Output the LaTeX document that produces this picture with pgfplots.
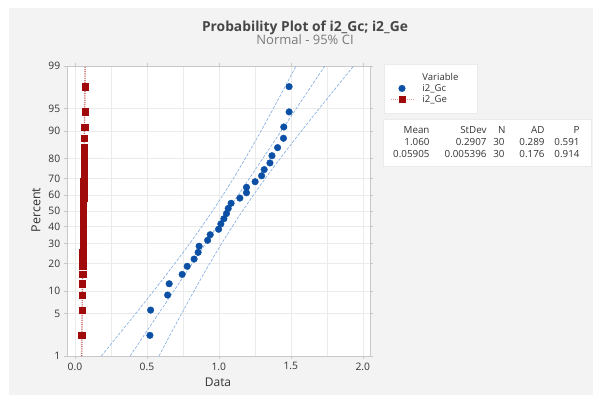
\documentclass[border=0pt]{standalone}
\usepackage{pgfplots}
\pgfplotsset{compat=1.18}
\usepackage{fontspec}
\setmainfont{Open Sans}
\definecolor{panelgray}{HTML}{F3F3F3}
\definecolor{minblue}{HTML}{0B50A5}
\definecolor{minred}{HTML}{A00A0A}
\definecolor{ciblue}{HTML}{7FAAE0}
\definecolor{gridgray}{HTML}{EBEBEB}
\definecolor{axisgray}{HTML}{C8C8C8}
\definecolor{txt}{HTML}{333333}
\definecolor{subtxt}{HTML}{7A7A7A}
\pgfplotsset{
  redleg/.style={legend image code/.code={\draw[draw=minred!40, line width=0.6pt, dash pattern=on 1pt off 1pt] (0cm,0cm) -- (0.8cm,0cm);
    \path[draw=none, fill=none] (0cm,0cm) -- (1.05cm,0cm);
    \draw[##1] plot coordinates {(0.4cm,0cm)};}},
  blueleg/.style={legend image code/.code={\path[draw=none, fill=none] (0cm,0cm) -- (1.05cm,0cm);
    \draw[##1] plot coordinates {(0.4cm,0cm)};}}
}
\begin{document}
\begin{tikzpicture}[x=1pt,y=1pt]
\fill[white] (0,0) rectangle (593,400);
\fill[panelgray] (9,5) rectangle (593,392);
\node[font=\fontsize{13.8}{16}\selectfont\bfseries, text=txt!90, anchor=base] at (305,400-32) {Probability Plot of i2\_Gc; i2\_Ge};
\node[font=\fontsize{13}{15}\selectfont, text=subtxt, anchor=base] at (305,400-44.5) {Normal - 95\% CI};
% legend box
\fill[white] (384,400-64) rectangle (477,400-113);
\draw[gridgray, line width=0.8pt] (384,400-64) rectangle (477,400-113);
% stats box
\fill[white] (383,400-119) rectangle (591,400-166);
\draw[gridgray, line width=0.8pt] (383,400-119) rectangle (591,400-166);
\begin{scope}[font=\fontsize{9.8}{11}\selectfont, text=txt]
\node[anchor=base east] at (433,400-133) {Mean};
\node[anchor=base east] at (490,400-133) {StDev};
\node[anchor=base east] at (509,400-133) {N};
\node[anchor=base east] at (548,400-133) {AD};
\node[anchor=base east] at (583,400-133) {P};
\node[anchor=base east] at (433,400-145) {1.060};
\node[anchor=base east] at (490,400-145) {0.2907};
\node[anchor=base east] at (508,400-145) {30};
\node[anchor=base east] at (548,400-145) {0.289};
\node[anchor=base east] at (583,400-145) {0.591};
\node[anchor=base east] at (433,400-157) {0.05905};
\node[anchor=base east] at (490,400-157) {0.005396};
\node[anchor=base east] at (508,400-157) {30};
\node[anchor=base east] at (548,400-157) {0.176};
\node[anchor=base east] at (583,400-157) {0.914};
\end{scope}
\node[font=\fontsize{12.5}{14}\selectfont, text=txt, rotate=90] at (36,400-210) {Percent};
\node[font=\fontsize{12}{14}\selectfont, text=txt] at (218,400-382) {Data};
\begin{axis}[
  at={(66.7pt,44pt)}, anchor=south west,
  scale only axis, width=303.3pt, height=290pt,
  xmin=-0.057, xmax=2.05, ymin=-2.3263, ymax=2.3263,
  axis background/.style={fill=white},
  axis line style={axisgray},
  xtick={0,0.5,1,1.5,2}, xticklabels={0.0,0.5,1.0,1.5,2.0},
  minor xtick={0.25,0.75,1.25,1.75},
  ytick={-2.3263,-1.6449,-1.2816,-0.8416,-0.5244,-0.2533,0,0.2533,0.5244,0.8416,1.2816,1.6449,2.3263},
  yticklabels={1,5,10,20,30,40,50,60,70,80,90,95,99},
  xmajorgrids, xminorgrids, ymajorgrids,
  grid style={gridgray, line width=0.6pt},
  minor grid style={gridgray, line width=0.6pt},
  tick align=outside, major tick length=3pt, minor tick length=0pt,
  tick style={axisgray, line width=0.6pt},
  ticklabel style={font=\fontsize{10.3}{12}\selectfont, text=txt},
  /pgf/number format/assume math mode=true,
  legend style={draw=none, fill=none, at={(axis description cs:1.063,0.987)}, anchor=north west,
    font=\fontsize{9.5}{11}\selectfont, text=txt, row sep=-1.5pt, inner sep=1pt},
  legend cell align=left,
  clip=true,
]
% blue fit line and CI bands
\addplot[ciblue, line width=0.6pt, dash pattern=on 3pt off 1.5pt, forget plot] coordinates {(0.3838,-2.3263) (1.7362,2.3263)};
\addplot[ciblue, line width=0.6pt, dash pattern=on 3pt off 1.5pt, forget plot, smooth] coordinates {
(0.1836,-2.3263) (0.2984,-2) (0.4724,-1.5) (0.6419,-1) (0.8044,-0.5) (0.9560,0) (1.0951,0.5) (1.2233,1) (1.3445,1.5) (1.4612,2) (1.5360,2.3263)};
\addplot[ciblue, line width=0.6pt, dash pattern=on 3pt off 1.5pt, forget plot, smooth] coordinates {
(0.5840,-2.3263) (0.6588,-2) (0.7756,-1.5) (0.8967,-1) (1.0250,-0.5) (1.1640,0) (1.3157,0.5) (1.4781,1) (1.6477,1.5) (1.8216,2) (1.9364,2.3263)};
% red fit line and CI bands
\addplot[minred!80, line width=0.8pt, dash pattern=on 1pt off 1.2pt, forget plot] coordinates {(0.0465,-2.3263) (0.0716,2.3263)};
\addplot[minred!50, line width=0.6pt, dash pattern=on 1pt off 1.2pt, forget plot, smooth] coordinates {(0.0428,-2.3263) (0.0571,0) (0.0679,2.3263)};
\addplot[minred!50, line width=0.6pt, dash pattern=on 1pt off 1.2pt, forget plot, smooth] coordinates {(0.0502,-2.3263) (0.0610,0) (0.0753,2.3263)};
\addlegendimage{empty legend}
\addlegendentry{Variable}
\addplot[only marks, mark=*, mark size=3.3pt, color=minblue, blueleg] table[row sep=\\] {
x y\\
0.521 -1.995\\ 0.526 -1.590\\ 0.644 -1.348\\ 0.655 -1.167\\ 0.745 -1.017\\
0.780 -0.887\\ 0.828 -0.771\\ 0.856 -0.664\\ 0.863 -0.565\\ 0.922 -0.470\\
0.940 -0.380\\ 0.998 -0.293\\ 1.014 -0.207\\ 1.035 -0.124\\ 1.053 -0.041\\
1.065 0.041\\ 1.085 0.124\\ 1.146 0.207\\ 1.192 0.293\\ 1.192 0.380\\
1.252 0.470\\ 1.297 0.565\\ 1.315 0.664\\ 1.355 0.771\\ 1.369 0.887\\
1.408 1.017\\ 1.449 1.167\\ 1.451 1.348\\ 1.488 1.590\\ 1.488 1.995\\
};
\addlegendentry{i2\_Gc}
\addplot[only marks, mark=square*, mark size=3.2pt, color=minred, redleg] table[row sep=\\] {
x y\\
0.0475 -1.995\\ 0.0500 -1.590\\ 0.0510 -1.348\\ 0.0525 -1.167\\ 0.0535 -1.017\\
0.0540 -0.887\\ 0.0550 -0.771\\ 0.0555 -0.664\\ 0.0560 -0.565\\ 0.0565 -0.470\\
0.0570 -0.380\\ 0.0575 -0.293\\ 0.0580 -0.207\\ 0.0585 -0.124\\ 0.0590 -0.041\\
0.0592 0.041\\ 0.0597 0.124\\ 0.0602 0.207\\ 0.0607 0.293\\ 0.0612 0.380\\
0.0618 0.470\\ 0.0625 0.565\\ 0.0632 0.664\\ 0.0640 0.771\\ 0.0648 0.887\\
0.0655 1.017\\ 0.0665 1.167\\ 0.0680 1.348\\ 0.0695 1.590\\ 0.0710 1.995\\
};
\addlegendentry{i2\_Ge}
\end{axis}
\end{tikzpicture}
\end{document}
